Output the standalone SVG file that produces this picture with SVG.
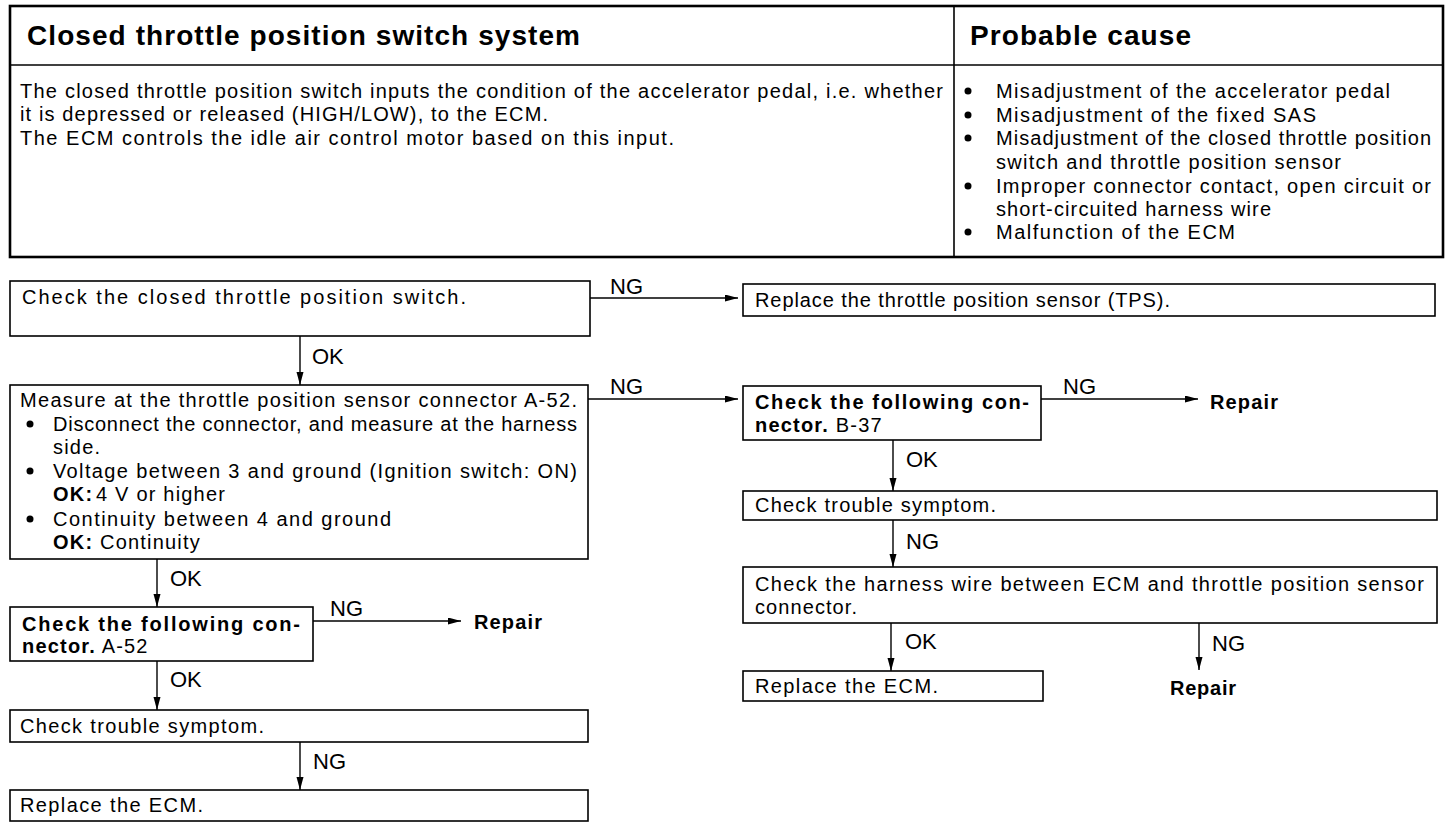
<svg xmlns="http://www.w3.org/2000/svg" width="1456" height="828" viewBox="0 0 1456 828">
<style>
text{font-family:"Liberation Sans",Arial,Helvetica,sans-serif;fill:#000}
.t{font-size:20px}
.ls{letter-spacing:1.2px}
.b{font-weight:bold}
.h{font-size:28px;font-weight:bold}
.lbl{font-size:22px}
.box{fill:#fff;stroke:#000;stroke-width:1.6}
.conn line{stroke:#000;stroke-width:1.4;marker-end:url(#ah)}
</style>
<defs>
<marker id="ah" markerUnits="userSpaceOnUse" markerWidth="14" markerHeight="8" refX="13" refY="3.5" orient="auto">
<path d="M0,0 L13,3.5 L0,7 Z" fill="#000"/>
</marker>
</defs>
<rect width="1456" height="828" fill="#fff"/>
<g id="table">
<rect x="10" y="6" width="1433" height="251" fill="none" stroke="#000" stroke-width="2.6"/>
<line x1="10" y1="65" x2="1443" y2="65" stroke="#000" stroke-width="1.6"/>
<line x1="954" y1="6" x2="954" y2="257" stroke="#000" stroke-width="1.6"/>
<text class="h" x="27" y="45" textLength="553" lengthAdjust="spacing">Closed throttle position switch system</text>
<text class="h" x="970" y="45" textLength="221" lengthAdjust="spacing">Probable cause</text>
<text class="t" x="20" y="98" textLength="923" lengthAdjust="spacing">The closed throttle position switch inputs the condition of the accelerator pedal, i.e. whether</text>
<text class="t" x="20" y="121" textLength="528" lengthAdjust="spacing">it is depressed or released (HIGH/LOW), to the ECM.</text>
<text class="t" x="20" y="145" textLength="654" lengthAdjust="spacing">The ECM controls the idle air control motor based on this input.</text>
<g fill="#000">
<circle cx="968" cy="91" r="3.5"/><circle cx="968" cy="115" r="3.5"/><circle cx="968" cy="138" r="3.5"/><circle cx="968" cy="186" r="3.5"/><circle cx="968" cy="232" r="3.5"/>
</g>
<text class="t" x="996" y="98" textLength="394" lengthAdjust="spacing">Misadjustment of the accelerator pedal</text>
<text class="t" x="996" y="122" textLength="320" lengthAdjust="spacing">Misadjustment of the fixed SAS</text>
<text class="t" x="996" y="145" textLength="435" lengthAdjust="spacing">Misadjustment of the closed throttle position</text>
<text class="t" x="996" y="169" textLength="345" lengthAdjust="spacing">switch and throttle position sensor</text>
<text class="t" x="996" y="193" textLength="435" lengthAdjust="spacing">Improper connector contact, open circuit or</text>
<text class="t" x="996" y="216" textLength="275" lengthAdjust="spacing">short-circuited harness wire</text>
<text class="t" x="996" y="239" textLength="239" lengthAdjust="spacing">Malfunction of the ECM</text>
</g>
<g class="conn" id="connectors">
<line x1="590" y1="298" x2="738" y2="298"/>
<line x1="300" y1="336" x2="300" y2="385"/>
<line x1="588" y1="399" x2="738" y2="399"/>
<line x1="1041" y1="399" x2="1198" y2="399"/>
<line x1="893" y1="440" x2="893" y2="491"/>
<line x1="893" y1="520" x2="893" y2="567"/>
<line x1="891" y1="623" x2="891" y2="671"/>
<line x1="1199" y1="623" x2="1199" y2="670"/>
<line x1="157" y1="559" x2="157" y2="607"/>
<line x1="313" y1="621" x2="461" y2="621"/>
<line x1="157" y1="661" x2="157" y2="710"/>
<line x1="300" y1="742" x2="300" y2="790"/>
</g>
<g id="labels">
<text class="lbl" x="610" y="294">NG</text>
<text class="lbl" x="312" y="364">OK</text>
<text class="lbl" x="610" y="394">NG</text>
<text class="lbl" x="1063" y="394">NG</text>
<text class="lbl" x="906" y="467">OK</text>
<text class="lbl" x="906" y="549">NG</text>
<text class="lbl" x="905" y="649">OK</text>
<text class="lbl" x="1212" y="651">NG</text>
<text class="lbl" x="170" y="586">OK</text>
<text class="lbl" x="330" y="616">NG</text>
<text class="lbl" x="170" y="687">OK</text>
<text class="lbl" x="313" y="769">NG</text>
</g>
<g id="n1">
<rect class="box" x="10" y="281" width="580" height="55"/>
<text class="t" x="22" y="304" textLength="444" lengthAdjust="spacing">Check the closed throttle position switch.</text>
</g>
<g id="n2">
<rect class="box" x="743" y="284" width="692" height="32"/>
<text class="t" x="755" y="307" textLength="415" lengthAdjust="spacing">Replace the throttle position sensor (TPS).</text>
</g>
<g id="n3">
<rect class="box" x="10" y="385" width="578" height="174"/>
<text class="t" x="20" y="407" textLength="557" lengthAdjust="spacing">Measure at the throttle position sensor connector A-52.</text>
<circle cx="30" cy="424" r="3.5"/><circle cx="30" cy="471" r="3.5"/><circle cx="30" cy="519" r="3.5"/>
<text class="t" x="53" y="431" textLength="524" lengthAdjust="spacing">Disconnect the connector, and measure at the harness</text>
<text class="t ls" x="53" y="454">side.</text>
<text class="t" x="53" y="478" textLength="524" lengthAdjust="spacing">Voltage between 3 and ground (Ignition switch: ON)</text>
<text class="t ls" x="53" y="501"><tspan class="b">OK:</tspan><tspan x="96">4 V or higher</tspan></text>
<text class="t" x="53" y="526" textLength="338" lengthAdjust="spacing">Continuity between 4 and ground</text>
<text class="t ls" x="53" y="549"><tspan class="b">OK:</tspan><tspan x="100">Continuity</tspan></text>
</g>
<g id="n4">
<rect class="box" x="743" y="386" width="298" height="54"/>
<text class="t b" x="755" y="409" textLength="274" lengthAdjust="spacing">Check the following con-</text>
<text class="t ls" x="755" y="432"><tspan class="b">nector.</tspan> B-37</text>
</g>
<g id="n5">
<text class="t b" x="1210" y="409" textLength="68" lengthAdjust="spacing">Repair</text>
</g>
<g id="n6">
<rect class="box" x="743" y="491" width="694" height="29"/>
<text class="t" x="755" y="512" textLength="241" lengthAdjust="spacing">Check trouble symptom.</text>
</g>
<g id="n7">
<rect class="box" x="743" y="567" width="694" height="56"/>
<text class="t" x="755" y="591" textLength="669" lengthAdjust="spacing">Check the harness wire between ECM and throttle position sensor</text>
<text class="t" x="755" y="614" textLength="102" lengthAdjust="spacing">connector.</text>
</g>
<g id="n8">
<rect class="box" x="743" y="671" width="300" height="30"/>
<text class="t" x="755" y="693" textLength="183" lengthAdjust="spacing">Replace the ECM.</text>
</g>
<g id="n9">
<text class="t b" x="1170" y="695" textLength="66" lengthAdjust="spacing">Repair</text>
</g>
<g id="n10">
<rect class="box" x="10" y="607" width="303" height="54"/>
<text class="t b" x="22" y="631" textLength="278" lengthAdjust="spacing">Check the following con-</text>
<text class="t ls" x="22" y="653"><tspan class="b">nector.</tspan> A-52</text>
</g>
<g id="n11">
<text class="t b" x="474" y="629" textLength="68" lengthAdjust="spacing">Repair</text>
</g>
<g id="n12">
<rect class="box" x="10" y="710" width="578" height="32"/>
<text class="t" x="20" y="733" textLength="244" lengthAdjust="spacing">Check trouble symptom.</text>
</g>
<g id="n13">
<rect class="box" x="10" y="790" width="578" height="31"/>
<text class="t" x="20" y="812" textLength="183" lengthAdjust="spacing">Replace the ECM.</text>
</g>
</svg>
